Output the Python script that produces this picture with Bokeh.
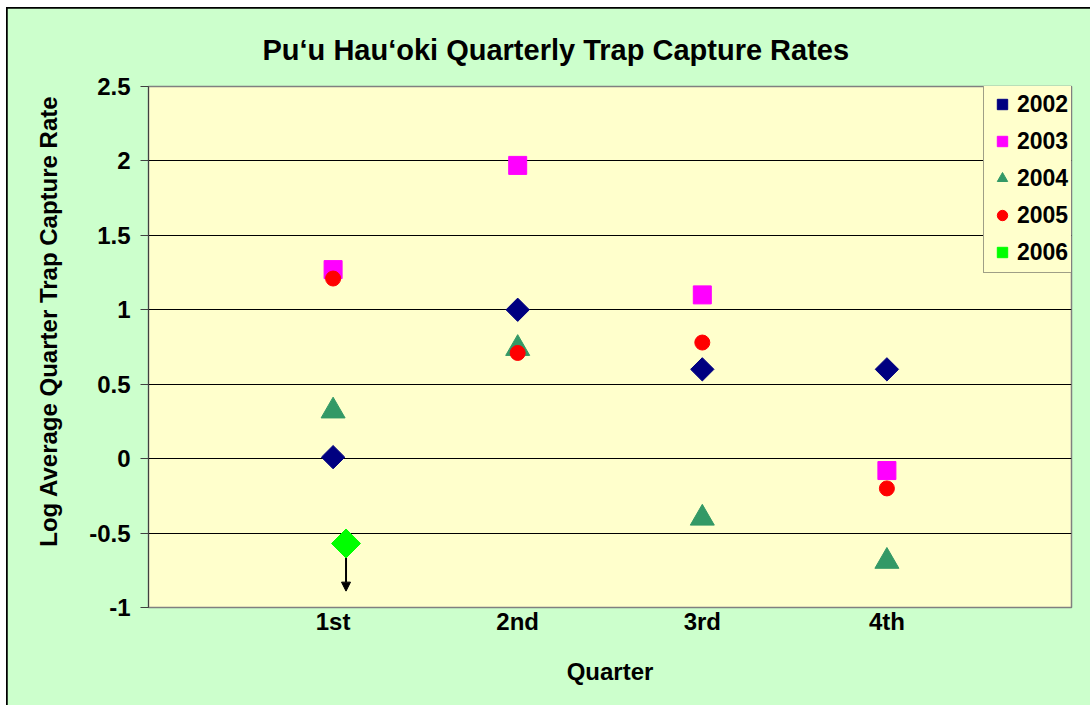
import math
from bokeh.plotting import figure
from bokeh.models import (Arrow, NormalHead, Range1d, FixedTicker, Legend,
                          LegendItem, ColumnDataSource, Title)
from bokeh.embed import file_html
from bokeh.resources import INLINE

# ---- data ----
quarters = ["1st", "2nd", "3rd", "4th"]
quarter_x = [1, 2, 3, 4]
y2002 = [0.01, 1.00, 0.60, 0.60]
y2003 = [1.27, 1.97, 1.10, -0.08]
y2004 = [0.32, 0.74, -0.40, -0.69]
y2005 = [1.21, 0.71, 0.78, -0.20]
x2006 = [1.07]
y2006 = [-0.57]
y2006_arrow_end = [-0.89]   # "less than" arrow below the 2006 point

ytick_vals = [-1, -0.5, 0, 0.5, 1, 1.5, 2, 2.5]
ytick_labels = ["-1", "-0.5", "0", "0.5", "1", "1.5", "2", "2.5"]

FONT = "Liberation Sans"

p = figure(width=1083, height=697,
           x_range=Range1d(0, 5), y_range=Range1d(-1, 2.5),
           output_backend="svg", toolbar_location=None,
           min_border_left=141, min_border_right=19,
           min_border_top=78, min_border_bottom=98,
           background_fill_color="#FFFFCC", border_fill_color="#CCFFCC",
           outline_line_color="#808080", outline_line_width=1.5)
p.styles = {"margin-left": "7px", "margin-top": "8px",
            "outline": "2px solid black", "outline-offset": "-1px"}

p.title.text = "Pu\u2018u Hau\u2018oki Quarterly Trap Capture Rates"
p.title.text_font = FONT
p.title.text_font_style = "bold"
p.title.text_font_size = "29px"
p.title.text_color = "black"
p.title.align = "left"
p.title.offset = 114
p.title.standoff = 41

# axes
p.xaxis.ticker = FixedTicker(ticks=quarter_x)
p.xaxis.major_label_overrides = dict(zip(quarter_x, quarters))
p.yaxis.ticker = FixedTicker(ticks=ytick_vals)
p.yaxis.major_label_overrides = dict(zip(ytick_vals, ytick_labels))

for ax in (p.xaxis[0], p.yaxis[0]):
    ax.major_label_text_font = FONT
    ax.major_label_text_font_style = "bold"
    ax.major_label_text_font_size = "24px"
    ax.major_label_text_color = "black"
    ax.axis_label_text_font = FONT
    ax.axis_label_text_font_style = "bold"
    ax.axis_label_text_font_size = "24px"
    ax.axis_label_text_color = "black"
    ax.minor_tick_line_color = None

p.xaxis.axis_label = "Quarter"
p.xaxis.major_tick_line_color = None
p.xaxis.major_tick_out = 0
p.xaxis.major_label_standoff = 0
p.xaxis.axis_label_standoff = 20
p.xaxis.axis_line_color = "#808080"

p.yaxis.major_tick_out = 8
p.yaxis.major_tick_in = 0
p.yaxis.major_tick_line_color = "#404040"
p.yaxis.major_label_standoff = 10
p.yaxis.axis_line_color = "#404040"

# y axis title, placed as in the reference (upper part of the left side)
ytitle = Title(text="Log Average Quarter Trap Capture Rate", align="right",
               offset=9, standoff=50, text_font=FONT, text_font_style="bold",
               text_font_size="24px", text_color="black")
p.add_layout(ytitle, "left")

p.xgrid.visible = False
p.ygrid.ticker = FixedTicker(ticks=ytick_vals)
p.ygrid.grid_line_color = "black"
p.ygrid.grid_line_width = 1

# arrow for 2006
asrc = ColumnDataSource(dict(x0=x2006, y0=y2006, y1=y2006_arrow_end))
arrow = Arrow(end=NormalHead(size=9, fill_color="black", line_color="black"),
              x_start="x0", y_start="y0", x_end="x0", y_end="y1",
              line_color="black", line_width=2, source=asrc, level="underlay")
p.add_layout(arrow)

r02 = p.scatter(quarter_x, y2002, marker="square", angle=math.pi / 4, size=16.5,
                fill_color="#000080", line_color="#000080")
r03 = p.scatter(quarter_x, y2003, marker="square", size=18,
                fill_color="#FF00FF", line_color="#FF00FF")
r04 = p.scatter(quarter_x, y2004, marker="triangle", size=24,
                fill_color="#339966", line_color="#339966")
r05 = p.scatter(quarter_x, y2005, marker="circle", size=15,
                fill_color="#FF0000", line_color="#FF0000")
r06 = p.scatter(x2006, y2006, marker="square", angle=math.pi / 4, size=20.5,
                fill_color="#00FF00", line_color="#00FF00")

legend = Legend(items=[LegendItem(label="2002", renderers=[r02]),
                       LegendItem(label="2003", renderers=[r03]),
                       LegendItem(label="2004", renderers=[r04]),
                       LegendItem(label="2005", renderers=[r05]),
                       LegendItem(label="2006", renderers=[r06])],
                location=(835, 334))
legend.label_text_font = FONT
legend.label_text_font_style = "bold"
legend.label_text_font_size = "23px"
legend.label_text_color = "black"
legend.background_fill_color = "#FFFFCC"
legend.background_fill_alpha = 1
legend.border_line_color = "#404040"
legend.border_line_width = 1.5
legend.padding = 5
legend.spacing = 7
legend.glyph_height = 30
legend.glyph_width = 26
legend.label_height = 30
legend.label_standoff = 2
legend.margin = 0
p.add_layout(legend)

open("out.html", "w").write(file_html(p, INLINE))
